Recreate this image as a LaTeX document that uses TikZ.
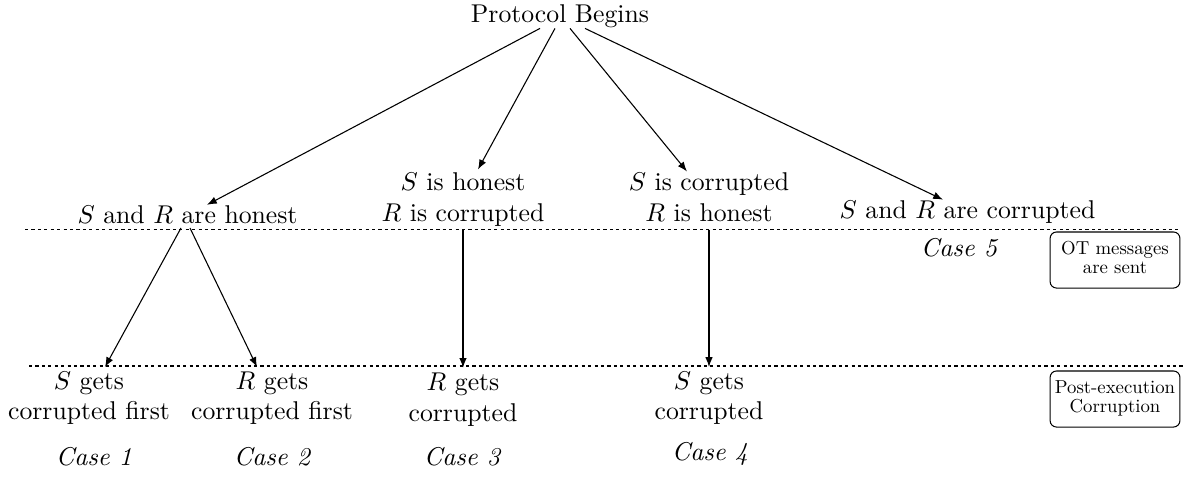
\documentclass[tikz,border=0pt]{standalone}
\usetikzlibrary{arrows.meta,calc}
\newcommand{\phasetext}[1]{\scalebox{0.73}{\fontsize{10}{10.5}\selectfont\begin{tabular}{@{}c@{}}#1\end{tabular}}}
\begin{document}
\begin{tikzpicture}[x=0.389pt,y=-0.389pt,
  lbl/.style={inner sep=0pt, align=center},
  cas/.style={inner sep=0pt, font=\itshape},
  arr/.style={-{Latex[length=3.8pt,width=2.9pt]}, line width=0.42pt},
  sep/.style={dash pattern=on 1.25pt off 1.25pt, line width=0.4pt},
  phase/.style={draw, rounded corners=2.5pt, minimum width=50.5pt,
    minimum height=21.8pt, inner sep=1pt, line width=0.4pt}]
\useasboundingbox (0,0) rectangle (1183,476);

% separators
\draw[sep] (25,229.5) -- (1178,229.5);
\draw[sep] (29,366) -- (1183,366);

% nodes
\node[lbl] (top) at (560,16.3) {Protocol Begins};
\node[lbl] (n1) at (187.5,214.4) {$S$ and $R$ are honest};
\node[lbl] (n2) at (463,199.8) {$S$ is honest\\$R$ is corrupted};
\node[lbl] (n3) at (709,197.5) {$S$ is corrupted\\$R$ is honest};
\node[lbl] (n4) at (967.5,211.6) {$S$ and $R$ are corrupted};

\node[lbl] (m1) at (89,398.2) {$S$ gets\\corrupted first};
\node[lbl] (m2) at (272,398.2) {$R$ gets\\corrupted first};
\node[lbl] (m3) at (463,400) {$R$ gets\\corrupted};
\node[lbl] (m4) at (709,398.2) {$S$ gets\\corrupted};

\node[cas] (c1) at (94,457) {Case 1};
\node[cas] (c2) at (272,457) {Case 2};
\node[cas] (c3) at (462,457) {Case 3};
\node[cas] (c4) at (710,454) {Case 4};
\node[cas] (c5) at (959,248) {Case 5};

\node[phase] (p1) at (1115,260) {\phasetext{OT messages\\are sent}};
\node[phase] (p2) at (1115,399) {\phasetext{Post-execution\\Corruption}};

% connectors
\draw[arr] ($(top.south)+(-20,0)$) -- ($(n1.north)+(19.5,0)$);
\draw[arr] ($(top.south)+(-5,0)$) -- ($(n2.north)+(15,-3)$);
\draw[arr] ($(top.south)+(10,0)$) -- ($(n3.north)+(-22,-1)$);
\draw[arr] ($(top.south)+(25,0)$) -- ($(n4.north)+(-24.5,0)$);

\draw[arr] ($(n1.south)+(-6.5,4)$) -- ($(m1.north)+(16,-4)$);
\draw[arr] ($(n1.south)+(2.5,4)$) -- ($(m2.north)+(-15,-4)$);
\draw[arr] ($(n2.south)+(0,3)$) -- ($(m3.north)+(0,-5)$);
\draw[arr] ($(n3.south)+(0,7)$) -- ($(m4.north)+(0,-4)$);
\end{tikzpicture}
\end{document}
